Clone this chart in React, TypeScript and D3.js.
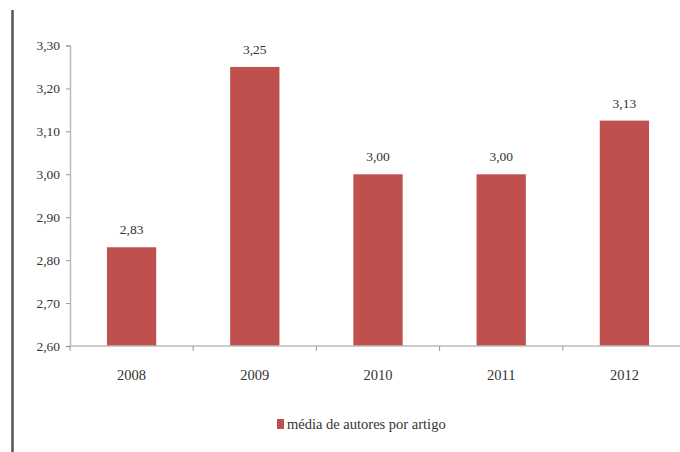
import { useEffect, useRef } from 'react';
import * as d3 from 'd3';

const years = ['2008', '2009', '2010', '2011', '2012'];
const values = [2.83, 3.25, 3.0, 3.0, 3.125];
const valueLabels = ['2,83', '3,25', '3,00', '3,00', '3,13'];
const yTicks = [2.6, 2.7, 2.8, 2.9, 3.0, 3.1, 3.2, 3.3];
const legendLabel = 'média de autores por artigo';

const BAR_COLOR = '#c0504d';
const FONT = 'Liberation Serif';

export default function App() {
  const svgRef = useRef<SVGSVGElement | null>(null);

  useEffect(() => {
    if (!svgRef.current) return;
    const svg = d3.select(svgRef.current);
    svg.selectAll('*').remove();

    const x0 = 70, x1 = 686;
    const yTop = 45.5, yBottom = 346;

    const xScale = d3.scaleBand().domain(years).range([x0, x1]).paddingInner(0.6).paddingOuter(0.3);
    const yScale = d3.scaleLinear().domain([2.6, 3.3]).range([yBottom, yTop]);

    // left frame border
    svg.append('line')
      .attr('x1', 12.5).attr('x2', 12.5).attr('y1', 10).attr('y2', 452)
      .attr('stroke', '#555').attr('stroke-width', 2.5);

    // y axis
    const gy = svg.append('g').attr('transform', `translate(${x0},0)`)
      .call(d3.axisLeft(yScale).tickValues(yTicks).tickSize(4).tickPadding(6)
        .tickFormat(d => d3.format('.2f')(d as number).replace('.', ',')));
    gy.attr('font-family', FONT).attr('font-size', 13.5);
    gy.select('.domain').attr('stroke', '#bbb').attr('stroke-width', 1.5);
    gy.selectAll('.tick line').attr('stroke', '#999');
    gy.selectAll('.tick text').attr('fill', '#333');

    // bars
    svg.selectAll('rect.bar').data(values)
      .join('rect')
      .attr('class', 'bar')
      .attr('x', (_, i) => xScale(years[i])!)
      .attr('y', d => yScale(d))
      .attr('width', xScale.bandwidth())
      .attr('height', d => yBottom - yScale(d))
      .attr('fill', BAR_COLOR);

    // value labels
    svg.selectAll('text.val').data(values)
      .join('text')
      .attr('class', 'val')
      .attr('x', (_, i) => xScale(years[i])! + xScale.bandwidth() / 2)
      .attr('y', d => yScale(d) - 13)
      .attr('text-anchor', 'middle')
      .attr('fill', '#333')
      .attr('font-family', FONT).attr('font-size', 13.5)
      .text((_, i) => valueLabels[i]);

    // x axis
    const step = xScale.step();
    const tickPos = d3.range(0, years.length + 1).map(i => x0 + i * step);
    svg.append('line')
      .attr('x1', x0).attr('x2', 680).attr('y1', yBottom).attr('y2', yBottom)
      .attr('stroke', '#bbb').attr('stroke-width', 1.5);
    svg.selectAll('line.xt').data(tickPos)
      .join('line')
      .attr('class', 'xt')
      .attr('x1', d => d).attr('x2', d => d)
      .attr('y1', yBottom).attr('y2', yBottom + 5)
      .attr('stroke', '#999');
    svg.selectAll('text.cat').data(years)
      .join('text')
      .attr('class', 'cat')
      .attr('x', d => xScale(d)! + xScale.bandwidth() / 2)
      .attr('y', 380)
      .attr('text-anchor', 'middle')
      .attr('fill', '#333')
      .attr('font-family', FONT).attr('font-size', 14.5)
      .text(d => d);

    // legend
    svg.append('rect')
      .attr('x', 277).attr('y', 419).attr('width', 7).attr('height', 10)
      .attr('fill', BAR_COLOR);
    svg.append('text')
      .attr('x', 287).attr('y', 429)
      .attr('fill', '#333')
      .attr('font-family', FONT).attr('font-size', 14.5)
      .text(legendLabel);
  }, []);

  return (
    <svg ref={svgRef} width={680} height={452}
      style={{ position: 'absolute', left: 0, top: 0, background: '#fff' }} />
  );
}
